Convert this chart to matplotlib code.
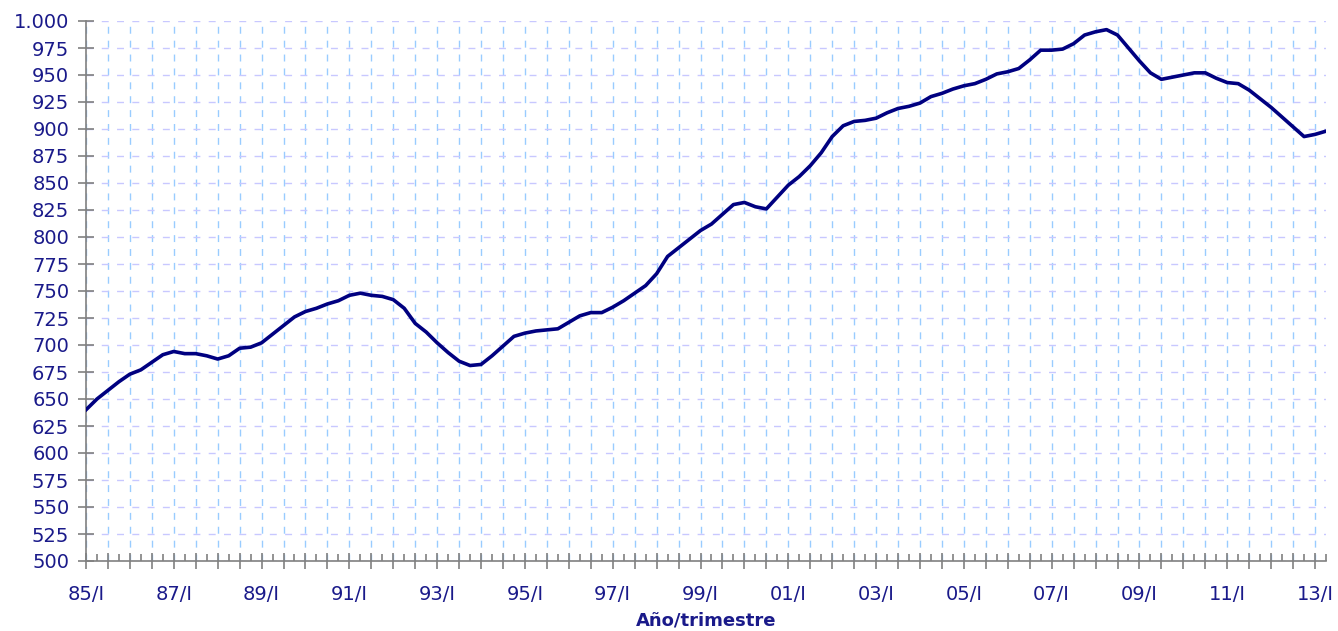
import matplotlib.pyplot as plt
from matplotlib.ticker import MultipleLocator, FuncFormatter

# trimestral, 85/I .. 13/II
valores = [640, 650, 658, 666, 673, 677, 684, 691, 694, 692,
           692, 690, 687, 690, 697, 698, 702, 710, 718, 726,
           731, 734, 738, 741, 746, 748, 746, 745, 742, 734,
           720, 712, 702, 693, 685, 681, 682, 690, 699, 708,
           711, 713, 714, 715, 721, 727, 730, 730, 735, 741,
           748, 755, 766, 782, 790, 798, 806, 812, 821, 830,
           832, 828, 826, 837, 848, 856, 866, 878, 893, 903,
           907, 908, 910, 915, 919, 921, 924, 930, 933, 937,
           940, 942, 946, 951, 953, 956, 964, 973, 973, 974,
           979, 987, 990, 992, 987, 975, 963, 952, 946, 948,
           950, 952, 952, 947, 943, 942, 936, 928, 920, 911,
           902, 893, 895, 898]
anio_inicio = 1985
x = list(range(len(valores)))

azul = '#1a1a8a'

fig = plt.figure(figsize=(13.38, 6.31), dpi=100)
ax = fig.add_axes([86 / 1338, 70 / 631, 1240 / 1338, 540 / 631])

ax.plot(x, valores, color='#000080', lw=2.6, solid_joinstyle='round', zorder=3)

ax.set_xlim(0, len(valores) - 1)
ax.set_ylim(500, 1000)

ax.yaxis.set_major_locator(MultipleLocator(25))
ax.yaxis.set_major_formatter(FuncFormatter(lambda v, p: f"{v:,.0f}".replace(",", ".")))
ax.xaxis.set_major_locator(MultipleLocator(2))
ax.xaxis.set_minor_locator(MultipleLocator(1))


def etiqueta(v, p):
    i = int(round(v))
    if i % 8 == 0:
        return f"{(anio_inicio + i // 4) % 100:02d}/I"
    return ""


ax.xaxis.set_major_formatter(FuncFormatter(etiqueta))

ax.grid(axis='y', color='#c8c8ff', lw=1, linestyle=(0, (5, 6)), zorder=1)
ax.grid(axis='x', color='#99ccff', lw=1, linestyle=(0, (5, 5)), zorder=1)

for s in ['top', 'right']:
    ax.spines[s].set_visible(False)
for s in ['left', 'bottom']:
    ax.spines[s].set_color('#808080')
    ax.spines[s].set_linewidth(1.2)

ax.tick_params(axis='y', which='major', direction='inout', length=12, width=1.2,
               color='#808080', labelcolor=azul, labelsize=14, pad=6)
ax.tick_params(axis='x', which='major', direction='inout', length=12, width=1.2,
               color='#808080', labelcolor=azul, labelsize=14, pad=11)
ax.tick_params(axis='x', which='minor', direction='in', length=5, width=1.2,
               color='#808080')

ax.set_xlabel('Año/trimestre', color=azul, fontsize=13, fontweight='bold', labelpad=6)

fig.savefig('out.png', dpi=100)
